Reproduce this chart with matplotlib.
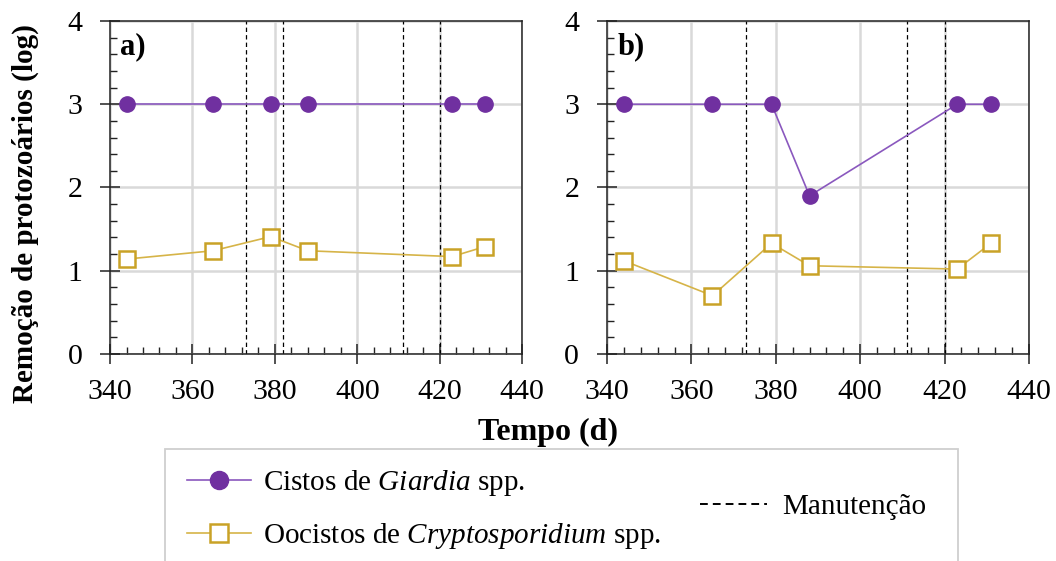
import matplotlib
matplotlib.use("Agg")
import matplotlib.pyplot as plt
from matplotlib.lines import Line2D
from matplotlib.patches import Rectangle
from matplotlib.ticker import MultipleLocator

# dias de operação e remoções (log)
dias = [344, 365, 379, 388, 423, 431]
giardia_a = [3, 3, 3, 3, 3, 3]
crypto_a = [1.14, 1.24, 1.41, 1.24, 1.17, 1.29]
giardia_b = [3, 3, 3, 1.9, 3, 3]
crypto_b = [1.12, 0.70, 1.33, 1.06, 1.02, 1.33]

# dias de manutenção em cada sistema
manut_a = [373, 382, 411, 420]
manut_b = [373, 411, 420]

roxo = "#7030A0"
ouro = "#C9A227"

plt.rcParams["font.family"] = "Liberation Serif"
plt.rcParams["mathtext.fontset"] = "custom"
plt.rcParams["mathtext.rm"] = "Liberation Serif"
plt.rcParams["mathtext.it"] = "Liberation Serif:italic"

fig = plt.figure(figsize=(10.56, 5.61), dpi=100)
ax_a = fig.add_axes([0.1042, 0.369, 0.3902, 0.5936])
ax_b = fig.add_axes([0.5748, 0.369, 0.3996, 0.5936])

for ax, gi, cr, man, rot in [(ax_a, giardia_a, crypto_a, manut_a, "a)"),
                             (ax_b, giardia_b, crypto_b, manut_b, "b)")]:
    ax.set_xlim(340, 440)
    ax.set_ylim(0, 4)
    ax.xaxis.set_major_locator(MultipleLocator(20))
    ax.xaxis.set_minor_locator(MultipleLocator(4))
    ax.yaxis.set_major_locator(MultipleLocator(1))
    ax.yaxis.set_minor_locator(MultipleLocator(0.2))
    ax.grid(True, which="major", color="#d9d9d9", lw=1.8, zorder=0)
    ax.set_axisbelow(True)
    for s in ax.spines.values():
        s.set_linewidth(1.1)
        s.set_color("#222222")
    ax.tick_params(which="major", direction="inout", length=14, width=1.1,
                   labelsize=21.5, color="#222222")
    ax.tick_params(axis="x", which="major", pad=11)
    ax.tick_params(axis="y", which="major", pad=13)
    ax.tick_params(which="minor", direction="in", length=5, width=1.0,
                   color="#222222")

    for d in man:
        ax.axvline(d, color="black", lw=0.9, ls=(0, (3.5, 2.5)), zorder=2)

    ax.plot(dias, gi, color="#8A58BE", lw=1.2, marker="o", ms=11,
            mfc=roxo, mec=roxo, zorder=4)
    ax.plot(dias, cr, color="#D6B448", lw=1.2, marker="s", ms=11,
            mfc="white", mec=ouro, mew=1.8, zorder=4)

    ax.text(0.025, 0.965, rot, transform=ax.transAxes, fontsize=22,
            fontweight="bold", va="top", ha="left")

fig.text(0.024, 0.62, "Remoção de protozoários (log)", rotation=90,
         fontsize=21, fontweight="bold", ha="center", va="center")
fig.text(0.519, 0.23, "Tempo (d)", fontsize=23, fontweight="bold",
         ha="center", va="center")

# legenda
fig.patches.append(Rectangle((0.156, -0.05), 0.751, 0.2496,
                             transform=fig.transFigure, fill=False,
                             edgecolor="#cfcfcf", lw=1.3))
h_gi = Line2D([], [], color="#8A58BE", lw=1.2, marker="o", ms=13,
              mfc=roxo, mec=roxo)
h_cr = Line2D([], [], color="#D6B448", lw=1.2, marker="s", ms=13,
              mfc="white", mec=ouro, mew=1.8)
h_man = Line2D([], [], color="black", lw=1.4, ls=(0, (4, 2.6)))
leg1 = fig.legend([h_gi, h_cr],
                  [r"Cistos de $\mathit{Giardia}$ spp.",
                   r"Oocistos de $\mathit{Cryptosporidium}$ spp."],
                  loc="center left", bbox_to_anchor=(0.177, 0.092),
                  frameon=False, fontsize=21, handlelength=2.2,
                  handletextpad=0.4, labelspacing=0.8, borderpad=0,
                  borderaxespad=0)
fig.legend([h_man], ["Manutenção"], loc="center left",
           bbox_to_anchor=(0.663, 0.096), frameon=False, fontsize=21,
           handlelength=2.3, handletextpad=0.5, borderpad=0,
           borderaxespad=0)

fig.savefig("out.png", dpi=100)
